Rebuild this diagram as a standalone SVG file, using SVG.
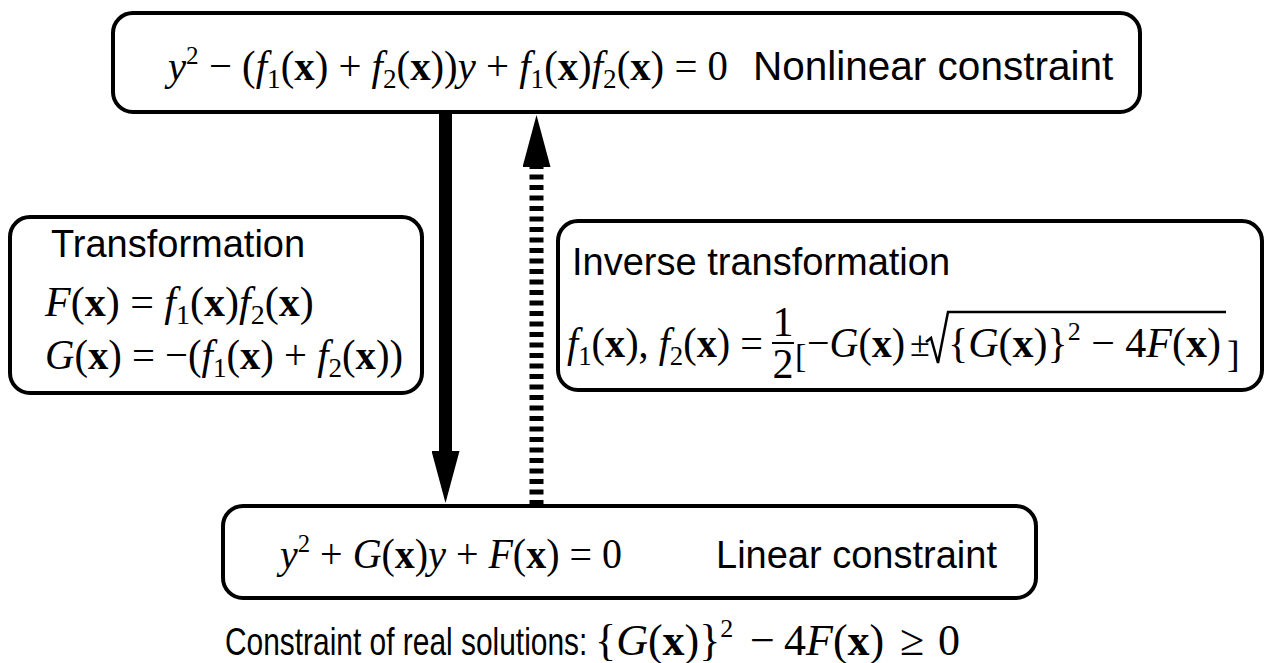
<svg xmlns="http://www.w3.org/2000/svg" width="1268" height="663" viewBox="0 0 1268 663">
<style>
.box{fill:#fff;stroke:#000;stroke-width:4}
.sans{font-family:"Liberation Sans",Arial,sans-serif;font-size:38px;fill:#000}
.math{font-family:"Liberation Serif","Times New Roman",serif;font-size:42px;fill:#000}
.i{font-style:italic}
.b{font-weight:bold}
.s{font-size:28px}
.p{font-size:26px}
.conn{fill:none;stroke:#000}
</style>
<defs>
<marker id="head" viewBox="0 0 52 28" markerUnits="userSpaceOnUse" markerWidth="52" markerHeight="28" refX="1" refY="14" orient="auto">
<path d="M0,0 L52,14 L0,28 Z" fill="#000"/>
</marker>
</defs>
<rect width="1268" height="663" fill="#fff"/>
<g id="connectors">
<path class="conn" d="M445.5,110 V452" stroke-width="13" marker-end="url(#head)"/>
<path class="conn" d="M536.5,505 V166" stroke-width="14" stroke-dasharray="5 5.5" marker-end="url(#head)"/>
</g>
<g id="nonlinear">
<rect class="box" x="113" y="13" width="1027" height="99" rx="20"/>
<text class="math" x="168" y="80" textLength="560" lengthAdjust="spacingAndGlyphs"><tspan class="i">y</tspan><tspan class="p" dy="-16">2</tspan><tspan dy="16"> − (</tspan><tspan class="i">f</tspan><tspan class="s" dy="8">1</tspan><tspan dy="-8">(</tspan><tspan class="b">x</tspan><tspan>) + </tspan><tspan class="i">f</tspan><tspan class="s" dy="8">2</tspan><tspan dy="-8">(</tspan><tspan class="b">x</tspan><tspan>))</tspan><tspan class="i">y</tspan><tspan> + </tspan><tspan class="i">f</tspan><tspan class="s" dy="8">1</tspan><tspan dy="-8">(</tspan><tspan class="b">x</tspan><tspan>)</tspan><tspan class="i">f</tspan><tspan class="s" dy="8">2</tspan><tspan dy="-8">(</tspan><tspan class="b">x</tspan><tspan>) = 0</tspan></text>
<text class="sans" x="753" y="80" style="font-size:40.5px">Nonlinear constraint</text>
</g>
<g id="transformation">
<rect class="box" x="10" y="217" width="412" height="176" rx="20"/>
<text class="sans" x="51" y="257">Transformation</text>
<text class="math" x="45" y="316"><tspan class="i">F</tspan><tspan>(</tspan><tspan class="b">x</tspan><tspan>) = </tspan><tspan class="i">f</tspan><tspan class="s" dy="8">1</tspan><tspan dy="-8">(</tspan><tspan class="b">x</tspan><tspan>)</tspan><tspan class="i">f</tspan><tspan class="s" dy="8">2</tspan><tspan dy="-8">(</tspan><tspan class="b">x</tspan><tspan>)</tspan></text>
<text class="math" x="45" y="369" textLength="358" lengthAdjust="spacingAndGlyphs"><tspan class="i">G</tspan><tspan>(</tspan><tspan class="b">x</tspan><tspan>) = −(</tspan><tspan class="i">f</tspan><tspan class="s" dy="8">1</tspan><tspan dy="-8">(</tspan><tspan class="b">x</tspan><tspan>) + </tspan><tspan class="i">f</tspan><tspan class="s" dy="8">2</tspan><tspan dy="-8">(</tspan><tspan class="b">x</tspan><tspan>))</tspan></text>
</g>
<g id="inverse">
<rect class="box" x="558" y="221" width="704" height="169" rx="20"/>
<text class="sans" x="572" y="275">Inverse transformation</text>
<text class="math" x="567" y="357" textLength="196" lengthAdjust="spacingAndGlyphs"><tspan class="i">f</tspan><tspan class="s" dy="8">1</tspan><tspan dy="-8">(</tspan><tspan class="b">x</tspan><tspan>), </tspan><tspan class="i">f</tspan><tspan class="s" dy="8">2</tspan><tspan dy="-8">(</tspan><tspan class="b">x</tspan><tspan>) =</tspan></text>
<text class="math" x="783" y="336" text-anchor="middle">1</text>
<line x1="772" y1="343" x2="794" y2="343" stroke="#000" stroke-width="2"/>
<text class="math" x="783" y="378" text-anchor="middle">2</text>
<text class="math" x="795" y="367" style="font-size:34px">[</text>
<text class="math" x="807" y="357" textLength="98" lengthAdjust="spacingAndGlyphs"><tspan>−</tspan><tspan class="i">G</tspan><tspan>(</tspan><tspan class="b">x</tspan><tspan>)</tspan></text>
<text class="math" x="910" y="356" style="font-size:36px">±</text>
<path d="M926,342 L931,338 L938,363 L948,312 L1226,312" fill="none" stroke="#000" stroke-width="2.5"/>
<text class="math" x="948" y="357"><tspan>{</tspan><tspan class="i">G</tspan><tspan>(</tspan><tspan class="b">x</tspan><tspan>)}</tspan><tspan class="p" dy="-17">2</tspan><tspan dy="17"> − 4</tspan><tspan class="i">F</tspan><tspan>(</tspan><tspan class="b">x</tspan><tspan>)</tspan></text>
<text class="math" x="1227" y="367" style="font-size:38px">]</text>
</g>
<g id="linear">
<rect class="box" x="223" y="506" width="813" height="92" rx="20"/>
<text class="math" x="280" y="568" textLength="342" lengthAdjust="spacingAndGlyphs"><tspan class="i">y</tspan><tspan class="p" dy="-16">2</tspan><tspan dy="16"> + </tspan><tspan class="i">G</tspan><tspan>(</tspan><tspan class="b">x</tspan><tspan>)</tspan><tspan class="i">y</tspan><tspan> + </tspan><tspan class="i">F</tspan><tspan>(</tspan><tspan class="b">x</tspan><tspan>) = 0</tspan></text>
<text class="sans" x="716" y="568">Linear constraint</text>
</g>
<g id="caption">
<text class="sans" transform="translate(225,655) scale(0.787,1)">Constraint of real solutions:</text>
<text class="math" x="595" y="655" style="font-size:44px"><tspan>{</tspan><tspan class="i">G</tspan><tspan>(</tspan><tspan class="b">x</tspan><tspan>)}</tspan><tspan class="p" dy="-18">2</tspan></text>
<text class="math" x="750" y="655" style="font-size:44px">−</text>
<text class="math" x="784" y="655" style="font-size:44px"><tspan>4</tspan><tspan class="i">F</tspan><tspan>(</tspan><tspan class="b">x</tspan><tspan>)</tspan></text>
<text class="math" x="900" y="655" style="font-size:44px">≥</text>
<text class="math" x="938" y="655" style="font-size:44px">0</text>
</g>
</svg>
